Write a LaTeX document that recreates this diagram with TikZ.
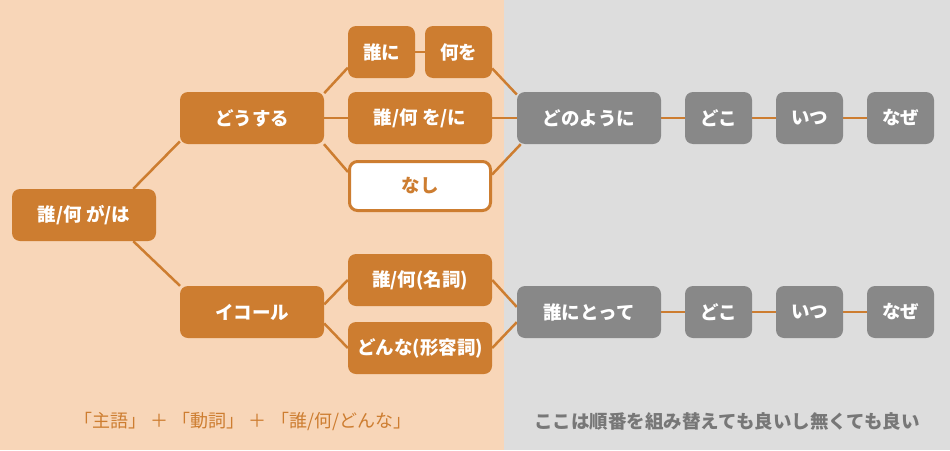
\documentclass[tikz,border=0pt]{standalone}
\usepackage{fontspec}
\setmainfont{Noto Sans CJK JP}
\definecolor{ochre}{HTML}{CD7D30}
\definecolor{peach}{HTML}{F8D6B8}
\definecolor{lightgrey}{HTML}{DDDDDD}
\definecolor{boxgrey}{HTML}{888888}
\definecolor{notegrey}{HTML}{777777}
\pgfdeclarelayer{bg}
\pgfdeclarelayer{lines}
\pgfsetlayers{bg,lines,main}
\tikzstyle{wordbox}=[
    rectangle, rounded corners=8pt,
    inner sep=0pt,
    minimum width=144pt,
    minimum height=52pt,
    text=white,
    font=\bfseries\fontsize{18.5}{18.5}\selectfont,
    fill=ochre,
]
\tikzstyle{smallbox}=[wordbox, minimum width=67pt]
\tikzstyle{greybox}=[wordbox, fill=boxgrey]
\tikzstyle{smallgrey}=[greybox, minimum width=67pt]
\tikzstyle{emptybox}=[wordbox, fill=white, draw=ochre, line width=3pt,
    text=ochre, minimum width=141pt, minimum height=49pt]
\tikzstyle{link}=[draw=ochre, line width=2.5pt]

\begin{document}
\begin{tikzpicture}[x=1pt, y=-1pt]
    \useasboundingbox (0,0) rectangle (950,450);
    \begin{pgfonlayer}{bg}
        \fill[peach] (0,0) rectangle (503.5,450);
        \fill[lightgrey] (503.5,0) rectangle (950,450);
    \end{pgfonlayer}

    \node (subject) at (84,215) [wordbox] {誰/何 が/は};
    \node (doing) at (252,118) [wordbox] {どうする};
    \node (equal) at (252,312) [wordbox] {イコール};
    \node (whom) at (381.5,52) [smallbox] {誰に};
    \node (what) at (458.5,52) [smallbox] {何を};
    \node (object) at (420,118) [wordbox] {誰/何 を/に};
    \node (none) at (420,186) [emptybox] {なし};
    \node (noun) at (420,280) [wordbox] {誰/何(名詞)};
    \node (adj) at (420,348) [wordbox] {どんな(形容詞)};

    \node (how) at (589,118) [greybox] {どのように};
    \node (whereA) at (718.5,118) [smallgrey] {どこ};
    \node (whenA) at (809.5,118) [smallgrey] {いつ};
    \node (whyA) at (900.5,118) [smallgrey] {なぜ};
    \node (forwhom) at (589,312) [greybox] {誰にとって};
    \node (whereB) at (718.5,312) [smallgrey] {どこ};
    \node (whenB) at (809.5,312) [smallgrey] {いつ};
    \node (whyB) at (900.5,312) [smallgrey] {なぜ};

    \node (formula) at (243,421) [text=ochre, font=\fontsize{18}{18}\selectfont]
        {「主語」 ＋ 「動詞」 ＋ 「誰/何/どんな」};
    \node (note) at (727,421) [text=notegrey, font=\bfseries\fontsize{18.5}{18.5}\selectfont]
        {ここは順番を組み替えても良いし無くても良い};

    \begin{pgfonlayer}{lines}
        \draw[link] (subject.28) -- (doing.198);
        \draw[link] (subject.332) -- (equal.160);
        \draw[link] (doing.19) -- (whom.205);
        \draw[link] (doing) -- (object);
        \draw[link] (doing.340) -- (none.169);
        \draw[link] (whom) -- (what);
        \draw[link] (what.334) -- (how.162);
        \draw[link] (object) -- (how);
        \draw[link] (none.9) -- (how.201);
        \draw[link] (equal.6) -- (noun.180);
        \draw[link] (equal.351) -- (adj.180);
        \draw[link] (noun.0) -- (forwhom.176);
        \draw[link] (adj.0) -- (forwhom.188);
        \foreach \a/\b in {how/whereA, whereA/whenA, whenA/whyA,
                forwhom/whereB, whereB/whenB, whenB/whyB}
            \draw[link] (\a) -- (\b);
    \end{pgfonlayer}
\end{tikzpicture}
\end{document}
